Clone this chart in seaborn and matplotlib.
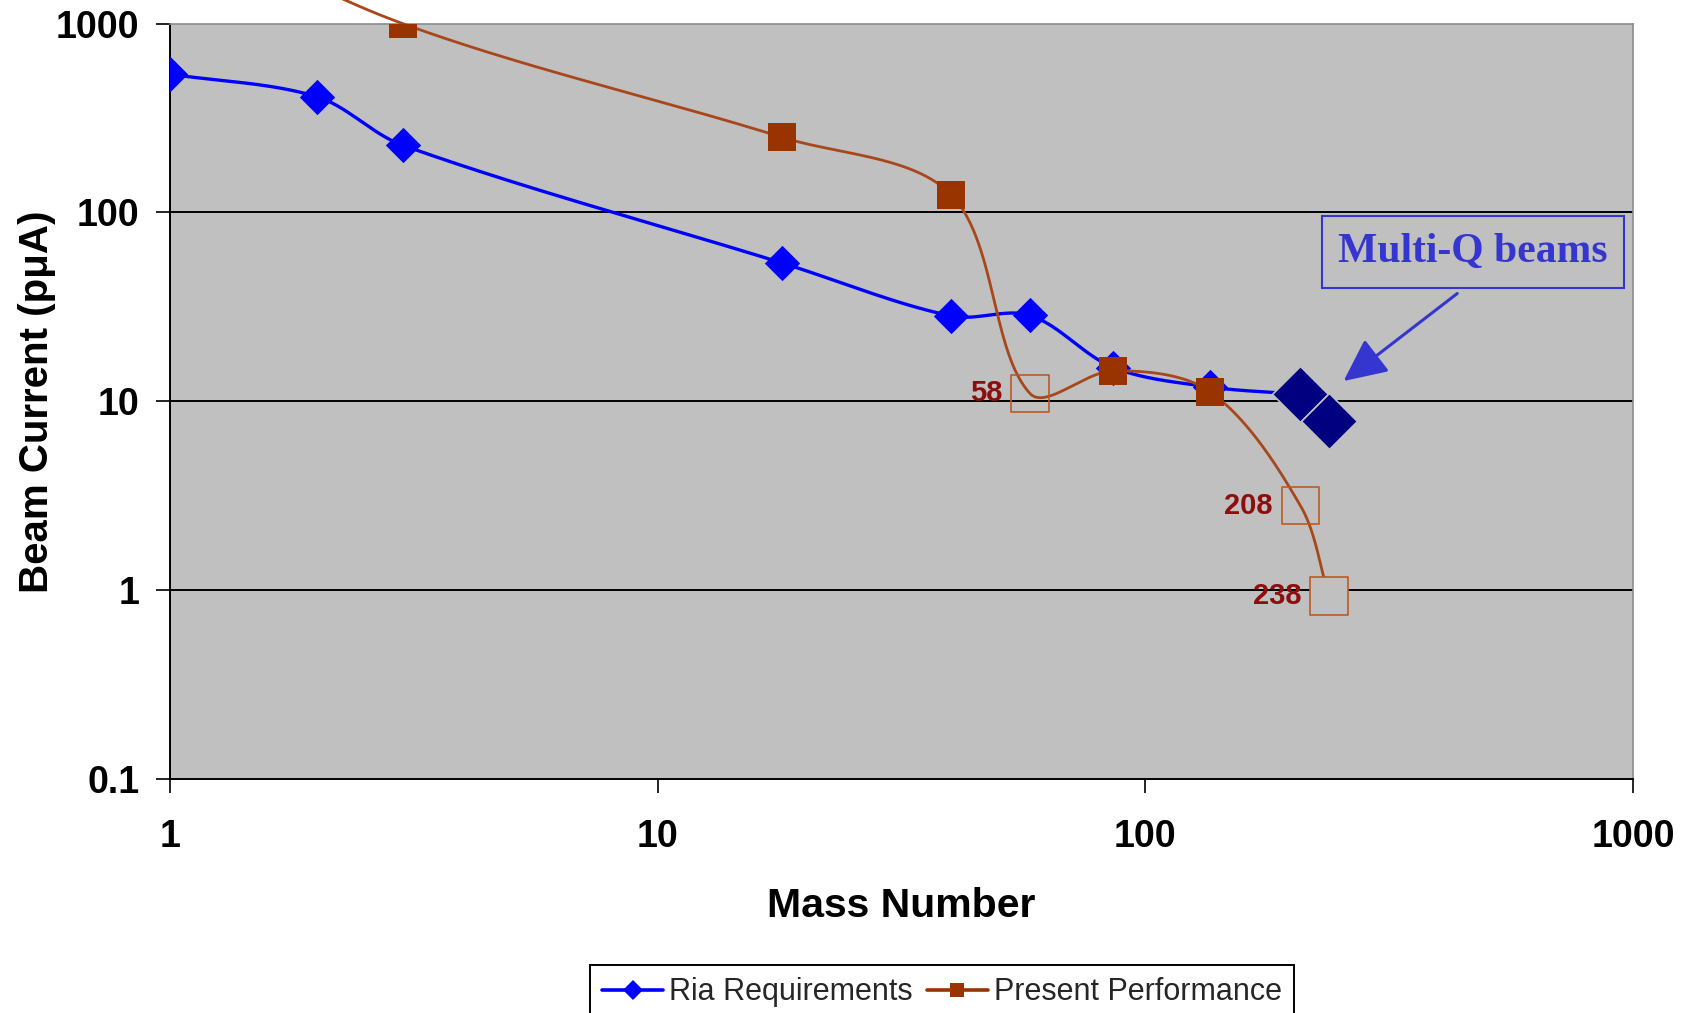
import numpy as np
import matplotlib
matplotlib.use("Agg")
import matplotlib.pyplot as plt
import seaborn as sns
from matplotlib.lines import Line2D

# --- data -------------------------------------------------------------
mass_ria = [1, 2, 3, 18, 40, 58, 86, 136, 208]
current_ria = [540, 410, 227, 54, 28.3, 28.5, 15.1, 11.9, 10.9]

mass_multiq = [208, 238]
current_multiq = [10.9, 7.85]

mass_present = [1, 3, 18, 40, 58, 86, 136, 208, 238]
current_present = [3800, 1000, 250, 124, 11, 14.5, 11.2, 2.8, 0.93]
present_measured = [True, True, True, True, False, True, True, False, False]

labelled_masses = [58, 208, 238]

x_ticks = [1, 10, 100, 1000]
x_tick_labels = ["1", "10", "100", "1000"]
y_ticks = [0.1, 1, 10, 100, 1000]
y_tick_labels = ["0.1", "1", "10", "100", "1000"]

# --- style ------------------------------------------------------------
BLUE = "#0000FF"
NAVY = "#000080"
BROWN = "#993300"
BROWN_LINE = "#A8471B"
OPEN_EDGE = "#BA5A22"
LABEL_RED = "#8E0E0E"
QBLUE = "#3535CF"
BG = "#C0C0C0"

sns.set_theme(style="white")
plt.rcParams["font.family"] = ["Liberation Sans", "DejaVu Sans"]

W, H = 1684, 1013
fig = plt.figure(figsize=(W / 100, H / 100), dpi=100)
ax_l, ax_r, ax_t, ax_b = 170, 1633, 23.6, 779
ax = fig.add_axes([ax_l / W, 1 - ax_b / H, (ax_r - ax_l) / W, (ax_b - ax_t) / H])
ax.set_facecolor(BG)
ax.set_xscale("log")
ax.set_yscale("log")
ax.set_xlim(1, 1000)
ax.set_ylim(0.1, 1000)

PX_DEC_X = (ax_r - ax_l) / 3
PX_DEC_Y = (ax_b - ax_t) / 4


def smooth_curve(xs, ys, n=60):
    """Smoothed Bezier path through the points, built in the screen space of a
    log-log axis, with tangents weighted by neighbouring segment lengths."""
    P = np.column_stack([np.log10(xs) * PX_DEC_X, np.log10(ys) * PX_DEC_Y])
    ext = np.vstack([P[0], P, P[-1]])
    segs = []
    for i in range(len(P) - 1):
        p0, p1, p2, p3 = ext[i], ext[i + 1], ext[i + 2], ext[i + 3]
        d01 = np.linalg.norm(p1 - p0)
        d12 = np.linalg.norm(p2 - p1)
        d23 = np.linalg.norm(p3 - p2)
        c1 = p1 + (p2 - p0) * d12 / (d01 + d12) / 3
        c2 = p2 - (p3 - p1) * d12 / (d12 + d23) / 3
        t = np.linspace(0, 1, n)[:, None]
        segs.append((1 - t) ** 3 * p1 + 3 * (1 - t) ** 2 * t * c1
                    + 3 * (1 - t) * t ** 2 * c2 + t ** 3 * p2)
    pts = np.vstack(segs)
    return 10 ** (pts[:, 0] / PX_DEC_X), 10 ** (pts[:, 1] / PX_DEC_Y)


# grid lines
for yv in [1, 10, 100]:
    ax.axhline(yv, color="black", lw=1.4, zorder=1)

# RIA requirement curve
sx, sy = smooth_curve(mass_ria, current_ria)
sns.lineplot(x=sx, y=sy, sort=False, estimator=None, ax=ax, color=BLUE, lw=2.4, zorder=3)
sns.scatterplot(x=mass_ria[:-1], y=current_ria[:-1], ax=ax, marker="D", s=18 ** 2,
                color=BLUE, edgecolor=BLUE, linewidth=0, zorder=4)

# multi-charge-state beams
sns.scatterplot(x=mass_multiq, y=current_multiq, ax=ax, marker="D", s=28.5 ** 2,
                color=NAVY, edgecolor=BG, linewidth=1.2, zorder=6)

# present performance curve
px_, py_ = smooth_curve(mass_present, current_present)
sns.lineplot(x=px_, y=py_, sort=False, estimator=None, ax=ax, color=BROWN_LINE, lw=2.0, zorder=5)
ax.lines[-1].set_clip_on(False)

meas_x = [m for m, f in zip(mass_present, present_measured) if f]
meas_y = [c for c, f in zip(current_present, present_measured) if f]
sns.scatterplot(x=meas_x, y=meas_y, ax=ax, marker="s", s=19.5 ** 2,
                color=BROWN, edgecolor=BROWN, linewidth=0, zorder=7)

open_x = [m for m, f in zip(mass_present, present_measured) if not f]
open_y = [c for c, f in zip(current_present, present_measured) if not f]
sns.scatterplot(x=open_x, y=open_y, ax=ax, marker="s", s=27 ** 2,
                color=OPEN_EDGE, edgecolor=OPEN_EDGE, linewidth=1.2, zorder=7)
coll = ax.collections[-1]
coll.set_facecolors(["none", "none", BG])
coll.set_edgecolor(OPEN_EDGE)

for m in labelled_masses:
    ax.annotate(str(m), xy=(m, current_present[mass_present.index(m)]),
                xytext=(-20, 0), textcoords="offset points",
                ha="right", va="center", fontsize=21, fontweight="bold",
                color=LABEL_RED, zorder=8)

# multi-Q callout
ax.annotate("Multi-Q beams", xy=(255, 12.8), xycoords="data",
            xytext=((1473 - ax_l) / (ax_r - ax_l), (ax_b - 252) / (ax_b - ax_t)),
            textcoords="axes fraction", ha="center", va="center",
            fontsize=30, fontweight="bold", color=QBLUE,
            family=["Liberation Serif", "DejaVu Serif"],
            bbox=dict(boxstyle="square,pad=0.4", fc="none", ec=QBLUE, lw=1.5),
            arrowprops=dict(arrowstyle="-|>,head_length=0.95,head_width=0.45",
                            color=QBLUE, lw=2.2, mutation_scale=28,
                            shrinkA=6, shrinkB=0, relpos=(0.55, 0.0)),
            zorder=9)

# axes decoration
ax.set_xticks(x_ticks)
ax.set_xticklabels(x_tick_labels)
ax.set_yticks(y_ticks)
ax.set_yticklabels(y_tick_labels)
ax.minorticks_off()
ax.tick_params(axis="both", which="major", length=10, width=1.2, color="black",
               labelsize=27, direction="out", bottom=True, left=True)
ax.tick_params(axis="x", pad=19)
ax.tick_params(axis="y", pad=12)
for lab in ax.get_xticklabels() + ax.get_yticklabels():
    lab.set_fontweight("bold")
    lab.set_color("black")

for side in ["left", "bottom"]:
    ax.spines[side].set_color("black")
    ax.spines[side].set_linewidth(1.4)
for side in ["top", "right"]:
    ax.spines[side].set_color("#8C8C8C")
    ax.spines[side].set_linewidth(1.2)
    ax.spines[side].set_visible(True)

ax.set_xlabel("Mass Number", fontsize=29.5, fontweight="bold", color="black")
ax.xaxis.set_label_coords(0.5, (ax_b - 906) / (ax_b - ax_t))
ax.xaxis.label.set_va("center")
ax.set_ylabel("Beam Current (p\u03bcA)", fontsize=29, fontweight="bold", color="black")
ax.yaxis.set_label_coords((37 - ax_l) / (ax_r - ax_l), 0.5)
ax.yaxis.label.set_va("center")

handles = [
    Line2D([], [], color=BLUE, lw=2.6, marker="D", markersize=10, markeredgewidth=0),
    Line2D([], [], color=BROWN, lw=2.6, marker="s", markersize=10, markeredgewidth=0),
]
fig.legend(handles, ["Ria Requirements", "Present Performance"],
           loc="upper center", bbox_to_anchor=(942 / W, 1 - 965 / H),
           ncol=2, fontsize=22, frameon=True, fancybox=False, framealpha=1,
           edgecolor="black", borderpad=0.4, handlelength=2.0,
           handletextpad=0.2, columnspacing=0.45, borderaxespad=0)
leg = fig.legends[0]
leg.get_frame().set_linewidth(1.4)

fig.savefig("out.png", dpi=100, facecolor="white")
